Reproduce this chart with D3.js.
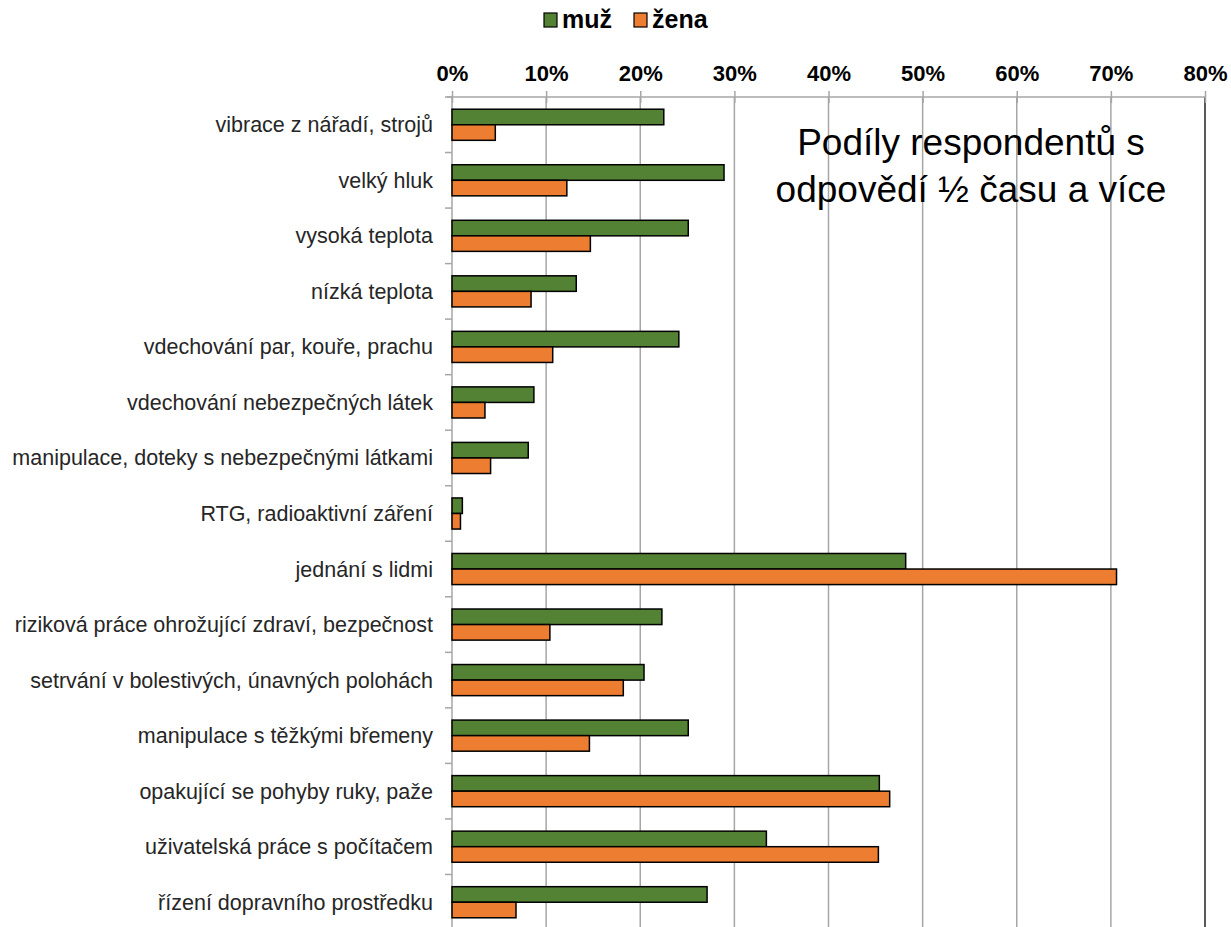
<!DOCTYPE html>
<html>
<head>
<meta charset="utf-8">
<script src="https://cdn.jsdelivr.net/npm/d3@7"></script>
<style>
  body { margin: 0; background: #fff; }
  svg { display: block; font-family: "Liberation Sans", Arial, sans-serif; }
</style>
</head>
<body>
<svg width="1231" height="927"></svg>
<script>
const categories = [
  "vibrace z nářadí, strojů",
  "velký hluk",
  "vysoká teplota",
  "nízká teplota",
  "vdechování par, kouře, prachu",
  "vdechování nebezpečných látek",
  "manipulace, doteky s nebezpečnými látkami",
  "RTG, radioaktivní záření",
  "jednání s lidmi",
  "riziková práce ohrožující zdraví, bezpečnost",
  "setrvání v bolestivých, únavných polohách",
  "manipulace s těžkými břemeny",
  "opakující se pohyby ruky, paže",
  "uživatelská práce s počítačem",
  "řízení dopravního prostředku"
];
const muz  = [22.5, 28.9, 25.1, 13.2, 24.1, 8.7, 8.1, 1.1, 48.2, 22.3, 20.4, 25.1, 45.4, 33.4, 27.1];
const zena = [4.6, 12.2, 14.7, 8.4, 10.7, 3.5, 4.1, 0.9, 70.6, 10.4, 18.2, 14.6, 46.5, 45.3, 6.8];
const seriesNames = ["muž", "žena"];
const seriesColors = ["#548235", "#ED7D31"];
const xTicks = [0, 10, 20, 30, 40, 50, 60, 70, 80];
const noteLines = ["Podíly respondentů s", "odpovědí ½ času a více"];

const m = {left: 452, right: 1205, top: 97, bottom: 930};

const svg = d3.select("svg");

const x = d3.scaleLinear([0, 80], [m.left, m.right]);
const y = d3.scaleBand(categories, [m.top, m.bottom]).paddingInner(0.44).paddingOuter(0.22);
const ySub = d3.scaleBand(seriesNames, [0, y.bandwidth()]);

// gridlines
svg.append("g").selectAll("line")
  .data(xTicks.slice(1))
  .join("line")
    .attr("x1", d => x(d)).attr("x2", d => x(d))
    .attr("y1", m.top).attr("y2", m.bottom)
    .attr("stroke", d => d === 80 ? "#222" : "#a6a6a6")
    .attr("stroke-width", 1.5);

// top axis
const xAxis = d3.axisTop(x)
  .tickValues(xTicks)
  .tickFormat(d => d + "%")
  .tickSize(6)
  .tickSizeOuter(0);

const gx = svg.append("g")
  .attr("transform", `translate(0,${m.top})`)
  .call(xAxis);
gx.select(".domain").attr("stroke", "#a6a6a6").attr("stroke-width", 1.5)
  .attr("d", `M${m.left - 5},0H${m.right}`);
gx.selectAll(".tick line").attr("stroke", "#a6a6a6").attr("stroke-width", 1.5)
  .attr("y1", 6).attr("y2", -6);
gx.selectAll(".tick text")
  .attr("y", -16)
  .attr("font-size", 22).attr("font-weight", "bold").attr("fill", "#000")
  .attr("font-family", "Liberation Sans, Arial, sans-serif");

// left axis line and category boundary ticks
svg.append("line")
  .attr("x1", m.left).attr("x2", m.left).attr("y1", m.top).attr("y2", m.bottom)
  .attr("stroke", "#a6a6a6").attr("stroke-width", 1.5);

svg.append("g").selectAll("line")
  .data(d3.range(categories.length + 1))
  .join("line")
    .attr("x1", m.left - 7).attr("x2", m.left)
    .attr("y1", i => m.top + i * y.step()).attr("y2", i => m.top + i * y.step())
    .attr("stroke", "#a6a6a6").attr("stroke-width", 1.5);

// category labels
svg.append("g").selectAll("text")
  .data(categories)
  .join("text")
    .attr("x", m.left - 19)
    .attr("y", d => y(d) + y.bandwidth() / 2)
    .attr("dy", "0.35em")
    .attr("text-anchor", "end")
    .attr("font-size", 21.5)
    .attr("fill", "#262626")
    .text(d => d);

// bars
const rows = categories.map((c, i) => ({c, vals: [muz[i], zena[i]]}));
const grp = svg.append("g").selectAll("g")
  .data(rows)
  .join("g")
    .attr("transform", d => `translate(0,${y(d.c)})`);

grp.selectAll("rect")
  .data(d => d.vals.map((v, j) => ({s: seriesNames[j], v, j})))
  .join("rect")
    .attr("x", x(0))
    .attr("y", d => ySub(d.s))
    .attr("width", d => x(d.v) - x(0))
    .attr("height", ySub.bandwidth())
    .attr("fill", d => seriesColors[d.j])
    .attr("stroke", "#000")
    .attr("stroke-width", 1.5);

// legend
const legend = svg.append("g").attr("transform", "translate(544,13)");
const legX = [0, 90];
seriesNames.forEach((s, j) => {
  const g = legend.append("g").attr("transform", `translate(${legX[j]},0)`);
  g.append("rect").attr("width", 13).attr("height", 14)
    .attr("fill", seriesColors[j]).attr("stroke", "#000").attr("stroke-width", 1.2);
  g.append("text").attr("x", 18).attr("y", 15)
    .attr("font-size", 25).attr("font-weight", "bold").attr("fill", "#000")
    .text(s);
});

// note
svg.append("g").selectAll("text")
  .data(noteLines)
  .join("text")
    .attr("x", 971)
    .attr("y", (d, i) => 155 + i * 47)
    .attr("text-anchor", "middle")
    .attr("font-size", 37)
    .attr("fill", "#000")
    .text(d => d);
</script>
</body>
</html>
